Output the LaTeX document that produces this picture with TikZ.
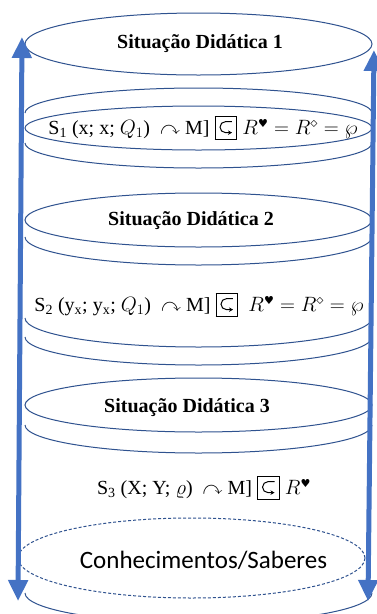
\documentclass[tikz,border=0pt]{standalone}
\usepackage{amssymb}
\usepackage{fontspec}
\setmainfont{Liberation Serif}
\newfontfamily\calib{Carlito}
\newfontfamily\dejavu{DejaVu Sans}
\usetikzlibrary{arrows.meta}
\definecolor{rim}{HTML}{2F528F}
\definecolor{arr}{HTML}{4472C4}
\newcommand{\hookbox}{{\fboxsep=4pt\fboxrule=0.9pt\fbox{\tikz[x=1pt,y=1pt,baseline=2pt]{\draw[line width=1pt,-{Stealth[length=4pt,width=4.5pt]}] (13,15) -- (6.5,15) arc[start angle=90,end angle=270,radius=5.5] -- (13,4);}}}}
\newcommand{\blackheart}{\mbox{\dejavu\fontsize{11}{11}\selectfont ♥}}
\begin{document}
\begin{tikzpicture}[x=1pt,y=-1pt,
  rimline/.style={draw=rim,line width=1pt},
  dashrim/.style={draw=rim,line width=1pt,dash pattern=on 3pt off 2pt},
  arrowline/.style={draw=arr,line width=5pt,{Triangle[width=19pt,length=21pt]}-{Triangle[width=19pt,length=21pt]}},
  title/.style={font=\bfseries\fontsize{20}{24}\selectfont},
  formula/.style={font=\fontsize{20}{24}\selectfont}]
\useasboundingbox (0,0) rectangle (377,614);
\fill[white] (0,0) rectangle (377,614);

% top disc
\draw[rimline] (198.5,44) ellipse [x radius=173.5, y radius=31];
% band 1
\draw[rimline] (25,113) arc[start angle=180,end angle=360,x radius=173.5,y radius=25];
\draw[rimline] (198.5,128) ellipse [x radius=173.5, y radius=22];
\draw[rimline] (25,143) arc[start angle=180,end angle=0,x radius=173.5,y radius=25];
% disc 2
\draw[rimline] (198.5,220) ellipse [x radius=173.5, y radius=27];
\draw[rimline] (25,237) arc[start angle=180,end angle=0,x radius=173.5,y radius=28];
% band 2
\draw[rimline] (25,318) arc[start angle=180,end angle=0,x radius=173.5,y radius=29];
\draw[rimline] (25,337) arc[start angle=180,end angle=0,x radius=173.5,y radius=28];
% disc 3
\draw[rimline] (198.5,405) ellipse [x radius=173.5, y radius=27];
\draw[rimline] (25,425) arc[start angle=180,end angle=0,x radius=173.5,y radius=28];
% knowledge
\draw[dashrim] (191.5,558) ellipse [x radius=173.5, y radius=40];
% bottom rim
\draw[rimline] (25,593) arc[start angle=180,end angle=0,x radius=173.5,y radius=30];

% texts
\node[title] (sd1) at (200,44) {Situação Didática 1};
\node[formula] (s1) at (203,128) {S\textsubscript{1} (x; x; $Q_1$)\ \ $\curvearrowright$ M] \hookbox{} $R^{\blackheart}=R^{\diamond}=\wp$};
\node[title] (sd2) at (191,221) {Situação Didática 2};
\node[formula] (s2) at (199,305) {S\textsubscript{2} (y\textsubscript{x}; y\textsubscript{x}; $Q_1$)\ \ $\curvearrowright$ M] \hookbox\ \ $R^{\blackheart}=R^{\diamond}=\wp$};
\node[title] (sd3) at (187,408) {Situação Didática 3};
\node[formula] (s3) at (204,488) {S\textsubscript{3} (X; Y; $\varrho$)\ \ $\curvearrowright$ M] \hookbox{} $R^{\blackheart}$};
\node[font=\calib\fontsize{25}{30}\selectfont] (ck) at (203.5,560) {Conhecimentos/Saberes};

% arrows
\coordinate (lt) at (22,37);
\coordinate (lb) at (18,601);
\coordinate (rt) at (374,50);
\coordinate (rb) at (368,601);
\draw[arrowline] (lb) -- (lt);
\draw[arrowline] (rb) -- (rt);
\end{tikzpicture}
\end{document}
